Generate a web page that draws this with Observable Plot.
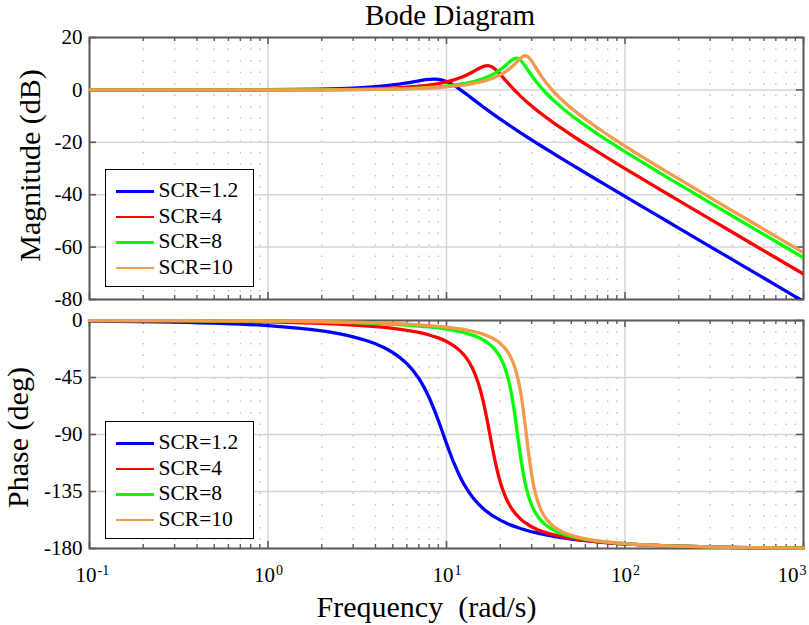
<!DOCTYPE html>
<html>
<head>
<meta charset="utf-8">
<script src="https://cdn.jsdelivr.net/npm/d3@7"></script>
<script src="https://cdn.jsdelivr.net/npm/@observablehq/plot@0.6"></script>
<style>
  html, body { margin: 0; padding: 0; background: #fff; }
  #wrap { position: relative; width: 809px; height: 625px; background: #fff; overflow: hidden;
          font-family: "Liberation Serif", "Times New Roman", serif; color: #000; }
  #title { position: absolute; left: 300px; width: 300px; top: 0px; text-align: center;
           font-size: 29px; line-height: 30px; }
  #top { position: absolute; left: 0; top: 0; }
  #bot { position: absolute; left: 0; top: 300px; }
  #wrap svg text { font-family: "Liberation Serif", "Times New Roman", serif; }
  .legend { position: absolute; left: 105px; width: 149px; height: 118px; box-sizing: border-box;
            border: 1.6px solid #000; background: #fff; padding-top: 8.3px; padding-left: 9.5px; }
  .legend .row { height: 25.5px; line-height: 25.5px; font-size: 21.5px; white-space: nowrap; }
  .legend .sw { display: inline-block; width: 38px; height: 2.6px; vertical-align: middle;
                margin-right: 5px; position: relative; top: -1px; }
</style>
</head>
<body>
<div id="wrap">
  <div id="top"></div>
  <div id="bot"></div>
  <div id="title">Bode Diagram</div>
</div>
<script>
// ---- data ----
const freq = [0.1, 0.3, 1, 2, 3, 4, 5, 6, 7, 8, 9, 10,
  11, 12, 13, 14, 15, 16, 17, 18, 19, 20, 21, 22, 23, 24, 25, 26, 27, 28, 29, 30, 31, 32,
  34, 36, 40, 45, 50, 60, 70, 85,
  100, 150, 200, 300, 500, 700, 1000];

const seriesNames = ["SCR=1.2", "SCR=4", "SCR=8", "SCR=10"];
const seriesColors = ["#0000ff", "#ff0000", "#00ff00", "#f39b4d"];

const magBlue = [0.00, 0.01, 0.07, 0.30, 0.67, 1.20, 1.88, 2.66, 3.46, 4.02, 4.01, 3.19,
  1.74, 0.01, -1.74, -3.42, -4.97, -6.41, -7.73, -8.95, -10.09, -11.16, -12.15, -13.09, -13.97, -14.81, -15.61, -16.37, -17.09, -17.79, -18.45, -19.09, -19.71, -20.30,
  -21.42, -22.47, -24.40, -26.53, -28.42, -31.66, -34.39, -37.80,
  -40.65, -47.73, -52.74, -59.79, -68.67, -74.51, -80.71];
const magRed = [0.00, 0.00, 0.03, 0.11, 0.24, 0.44, 0.69, 1.01, 1.40, 1.86, 2.42, 3.07,
  3.83, 4.71, 5.71, 6.82, 7.95, 8.88, 9.25, 8.76, 7.54, 5.96, 4.32, 2.75, 1.30, -0.03, -1.25, -2.38, -3.42, -4.39, -5.30, -6.15, -6.95, -7.71,
  -9.12, -10.40, -12.67, -15.09, -17.19, -20.69, -23.56, -27.10,
  -30.03, -37.21, -42.26, -49.34, -58.23, -64.08, -70.28];
const magGreen = [0.00, 0.00, 0.01, 0.05, 0.12, 0.22, 0.34, 0.50, 0.68, 0.90, 1.16, 1.45,
  1.79, 2.17, 2.60, 3.09, 3.64, 4.27, 4.98, 5.78, 6.69, 7.71, 8.84, 10.03, 11.16, 11.96, 12.04, 11.29, 9.98, 8.44, 6.91, 5.47, 4.14, 2.92,
  0.77, -1.08, -4.14, -7.18, -9.66, -13.62, -16.75, -20.50,
  -23.54, -30.89, -35.99, -43.11, -52.02, -57.88, -64.08];
const magOrange = [0.00, 0.00, 0.01, 0.04, 0.10, 0.17, 0.27, 0.40, 0.55, 0.72, 0.92, 1.15,
  1.41, 1.70, 2.03, 2.40, 2.82, 3.28, 3.80, 4.38, 5.03, 5.76, 6.58, 7.51, 8.55, 9.70, 10.91, 12.06, 12.88, 13.00, 12.28, 11.00, 9.49, 7.98,
  5.24, 2.93, -0.74, -4.21, -6.95, -11.18, -14.45, -18.32,
  -21.43, -28.86, -33.99, -41.12, -50.05, -55.90, -62.11];

const phBlue = [-0.39, -1.18, -3.98, -8.18, -12.88, -18.40, -25.26, -34.10, -45.78, -60.95, -78.93, -97.05,
  -112.48, -124.29, -133.01, -139.50, -144.42, -148.26, -151.31, -153.80, -155.88, -157.62, -159.12, -160.42, -161.55, -162.55, -163.44, -164.24, -164.96, -165.62, -166.21, -166.76, -167.26, -167.73,
  -168.55, -169.27, -170.46, -171.61, -172.50, -173.81, -174.73, -175.68,
  -176.34, -177.57, -178.18, -178.79, -179.27, -179.48, -179.64];
const phRed = [-0.11, -0.34, -1.15, -2.32, -3.54, -4.82, -6.21, -7.74, -9.46, -11.43, -13.75, -16.54,
  -19.99, -24.38, -30.12, -37.87, -48.51, -62.86, -80.59, -99.15, -115.19, -127.43, -136.33, -142.83, -147.69, -151.41, -154.34, -156.70, -158.63, -160.25, -161.62, -162.80, -163.83, -164.73,
  -166.23, -167.44, -169.28, -170.89, -172.05, -173.63, -174.67, -175.70,
  -176.38, -177.63, -178.23, -178.83, -179.30, -179.50, -179.65];
const phGreen = [-0.06, -0.17, -0.57, -1.15, -1.74, -2.35, -2.98, -3.64, -4.34, -5.09, -5.90, -6.79,
  -7.77, -8.86, -10.10, -11.53, -13.19, -15.16, -17.55, -20.49, -24.22, -29.05, -35.50, -44.28, -56.27, -71.91, -90.00, -107.42, -121.65, -132.26, -140.00, -145.71, -150.03, -153.38,
  -158.19, -161.46, -165.62, -168.64, -170.54, -172.82, -174.16, -175.40,
  -176.19, -177.55, -178.18, -178.80, -179.28, -179.49, -179.64];
const phOrange = [-0.05, -0.14, -0.46, -0.92, -1.39, -1.87, -2.37, -2.88, -3.42, -3.99, -4.59, -5.24,
  -5.94, -6.71, -7.55, -8.49, -9.55, -10.76, -12.16, -13.79, -15.73, -18.09, -21.01, -24.70, -29.50, -35.89, -44.60, -56.48, -72.01, -90.00, -107.40, -121.65, -132.32, -140.09,
  -150.17, -156.20, -162.91, -167.19, -169.64, -172.39, -173.91, -175.27,
  -176.11, -177.52, -178.17, -178.79, -179.28, -179.49, -179.64];

const magTicks = [20, 0, -20, -40, -60, -80];
const phaseTicks = [0, -45, -90, -135, -180];
const decades = [0.1, 1, 10, 100, 1000];
const decadeExp = ["-1", "0", "1", "2", "3"];
const magLabel = "Magnitude (dB)";
const phaseLabel = "Phase (deg)";
const freqLabel = "Frequency\u00a0\u00a0(rad/s)";

// ---- tables built from the arrays ----
const mags = [magBlue, magRed, magGreen, magOrange];
const phs = [phBlue, phRed, phGreen, phOrange];
const magRows = seriesNames.flatMap((s, i) => freq.map((w, j) => ({w, v: mags[i][j], s})));
const phRows = seriesNames.flatMap((s, i) => freq.map((w, j) => ({w, v: phs[i][j], s})));
const minorTicks = decades.slice(0, -1).flatMap(d => [2, 3, 4, 5, 6, 7, 8, 9].map(k => d * k));

const FONT = '"Liberation Serif", "Times New Roman", serif';
const AX = "#5c5c5c";
const W = 809, ML = 89, MR = 6;
const plotW = W - ML - MR;
const T = {fill: "#000", fontFamily: FONT};

function panel({height, marginTop, marginBottom, domain, ticks, rows, label, labelDx, labelDy, clip, bottomAxis}) {
  const plotH = height - marginTop - marginBottom;
  const marks = [
    Plot.ruleX(minorTicks, {x: d => d, stroke: "#c2c2c2", strokeWidth: 1.4, strokeDasharray: "1.4,10.1"}),
    Plot.ruleX(decades, {x: d => d, stroke: "#d6d6d6", strokeWidth: 1.5}),
    Plot.ruleY(ticks, {y: d => d, stroke: "#d6d6d6", strokeWidth: 1.5}),
    // inward tick marks (MATLAB box style)
    Plot.ruleX(minorTicks, {x: d => d, stroke: AX, strokeWidth: 1.4, insetBottom: plotH - 4}),
    Plot.ruleX(minorTicks, {x: d => d, stroke: AX, strokeWidth: 1.4, insetTop: plotH - 4}),
    Plot.ruleX(decades, {x: d => d, stroke: AX, strokeWidth: 1.6, insetBottom: plotH - 7}),
    Plot.ruleX(decades, {x: d => d, stroke: AX, strokeWidth: 1.6, insetTop: plotH - 7}),
    Plot.ruleY(ticks, {y: d => d, stroke: AX, strokeWidth: 1.6, insetRight: plotW - 7}),
    Plot.ruleY(ticks, {y: d => d, stroke: AX, strokeWidth: 1.6, insetLeft: plotW - 7}),
    Plot.frame({stroke: AX, strokeWidth: 2}),
    Plot.line(rows, {x: "w", y: "v", z: "s", stroke: "s", strokeWidth: 3.3, curve: "catmull-rom", clip}),
    // y tick labels
    Plot.text(ticks, {y: d => d, frameAnchor: "left", dx: -7, textAnchor: "end", lineAnchor: "middle",
      text: d => String(d), fontSize: 21, ...T}),
    // y axis title
    Plot.text([label], {frameAnchor: "left", dx: labelDx, dy: labelDy, rotate: -90, textAnchor: "middle",
      lineAnchor: "middle", text: d => d, fontSize: 30, ...T})
  ];
  if (bottomAxis) {
    const inner = decades.slice(0, -1), innerExp = decadeExp.slice(0, -1);
    const last = decades.slice(-1), lastExp = decadeExp.slice(-1);
    marks.push(
      Plot.text(inner, {x: d => d, frameAnchor: "bottom", dy: 27, dx: 7, textAnchor: "end", lineAnchor: "middle",
        text: () => "10", fontSize: 21, ...T}),
      Plot.text(inner, {x: d => d, frameAnchor: "bottom", dy: 22, dx: 8, textAnchor: "start", lineAnchor: "middle",
        text: (d, i) => innerExp[i], fontSize: 14, ...T}),
      Plot.text(last, {x: d => d, frameAnchor: "bottom", dy: 27, dx: -5, textAnchor: "end", lineAnchor: "middle",
        text: () => "10", fontSize: 21, ...T}),
      Plot.text(last, {x: d => d, frameAnchor: "bottom", dy: 22, dx: -4, textAnchor: "start", lineAnchor: "middle",
        text: (d, i) => lastExp[i], fontSize: 14, ...T}),
      Plot.text([freqLabel], {frameAnchor: "bottom", dy: 59, dx: -20, textAnchor: "middle", lineAnchor: "middle",
        text: d => d, fontSize: 30, ...T})
    );
  }
  return Plot.plot({
    width: W, height, marginLeft: ML, marginRight: MR, marginTop, marginBottom,
    x: {type: "log", domain: [0.1, 1000], axis: null},
    y: {domain: [domain[0], domain[1]], axis: null},
    color: {domain: seriesNames, range: seriesColors},
    style: {background: "transparent", fontFamily: FONT, color: "#000", overflow: "visible"},
    marks
  });
}

document.getElementById("top").appendChild(panel({
  height: 310, marginTop: 37, marginBottom: 11, domain: [-80, 20], ticks: magTicks,
  rows: magRows, label: magLabel, labelDx: -59, labelDy: -3, clip: true, bottomAxis: false
}));
document.getElementById("bot").appendChild(panel({
  height: 325, marginTop: 20, marginBottom: 77, domain: [-180, 0], ticks: phaseTicks,
  rows: phRows, label: phaseLabel, labelDx: -71, labelDy: 3, clip: false, bottomAxis: true
}));

function legend(top) {
  const box = document.createElement("div");
  box.className = "legend";
  box.style.top = top + "px";
  seriesNames.forEach((n, i) => {
    const row = document.createElement("div");
    row.className = "row";
    const sw = document.createElement("span");
    sw.className = "sw";
    sw.style.background = seriesColors[i];
    row.appendChild(sw);
    row.appendChild(document.createTextNode(n));
    box.appendChild(row);
  });
  document.getElementById("wrap").appendChild(box);
}
legend(169);
legend(421);
</script>
</body>
</html>
